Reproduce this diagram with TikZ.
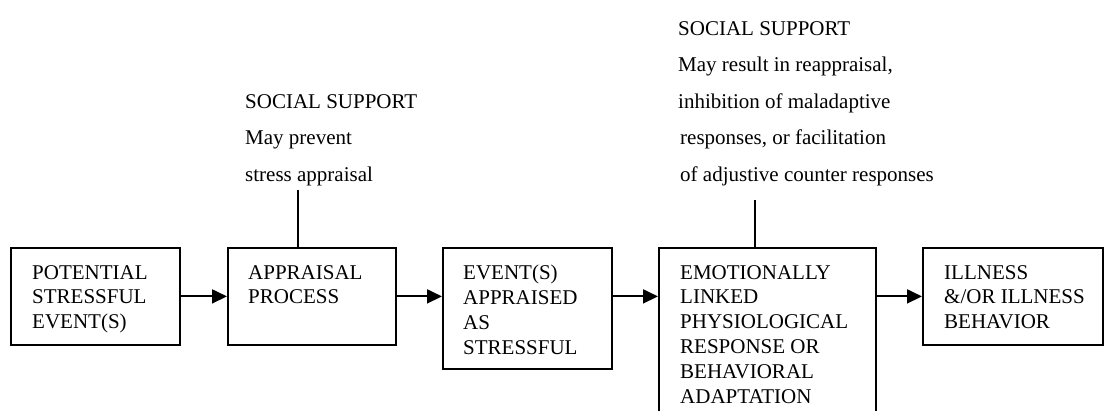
\documentclass[tikz,border=0pt]{standalone}
\usepackage{fontspec}
\setmainfont{Liberation Serif}
\usetikzlibrary{arrows.meta}
\begin{document}
\begin{tikzpicture}[x=1pt,y=-1pt,
  stagebox/.style={draw=black,line width=1.8pt,inner sep=0pt,anchor=north west},
  boxtext/.style={anchor=north west,inner sep=0pt,align=left,font=\fontsize{21}{24.8}\selectfont},
  notetext/.style={anchor=north west,inner sep=0pt,align=left,font=\fontsize{21}{36.5}\selectfont},
  arr/.style={line width=1.8pt,-{Triangle[length=15pt,width=14pt]}},
  link/.style={line width=1.8pt}]
\useasboundingbox (0,0) rectangle (1104,411);
\clip (0,0) rectangle (1104,411);
% boxes
\node[stagebox,minimum width=169pt,minimum height=97pt] (b1) at (10,247) {};
\node[stagebox,minimum width=168pt,minimum height=97pt] (b2) at (227,247) {};
\node[stagebox,minimum width=169pt,minimum height=121pt] (b3) at (442,247) {};
\node[stagebox,minimum width=217pt,minimum height=180pt] (b4) at (658,247) {};
\node[stagebox,minimum width=180pt,minimum height=97pt] (b5) at (922,247) {};
% box texts
\node[boxtext] (t1) at ([xshift=22pt,yshift=-18pt]b1.north west) {POTENTIAL\\STRESSFUL\\EVENT(S)};
\node[boxtext] (t2) at ([xshift=21pt,yshift=-18pt]b2.north west) {APPRAISAL\\PROCESS};
\node[boxtext] (t3) at ([xshift=21pt,yshift=-18pt]b3.north west) {EVENT(S)\\APPRAISED\\AS\\STRESSFUL};
\node[boxtext] (t4) at ([xshift=22pt,yshift=-18pt]b4.north west) {EMOTIONALLY\\LINKED\\PHYSIOLOGICAL\\RESPONSE OR\\BEHAVIORAL\\ADAPTATION};
\node[boxtext] (t5) at ([xshift=22pt,yshift=-18pt]b5.north west) {ILLNESS\\\&/OR ILLNESS\\BEHAVIOR};
% social support notes
\node[notetext] (n1) at (245,94) {SOCIAL SUPPORT\\May prevent\\stress appraisal};
\node[notetext] (n2) at (678,21) {SOCIAL SUPPORT\\May result in reappraisal,\\inhibition of maladaptive\\\hspace*{2pt}responses, or facilitation\\\hspace*{2pt}of adjustive counter responses};
% connectors
\draw[arr] (b1.east) -- (b2.west |- b1.east);
\draw[arr] (b2.east) -- (b3.west |- b2.east);
\draw[arr] (b3.east |- b2.east) -- (b4.west |- b2.east);
\draw[arr] (b4.east |- b5.west) -- (b5.west);
\coordinate (s1) at (298,190);
\coordinate (s2) at (755,200);
\draw[link] (s1) -- (s1 |- b2.north);
\draw[link] (s2) -- (s2 |- b4.north);
\end{tikzpicture}
\end{document}
